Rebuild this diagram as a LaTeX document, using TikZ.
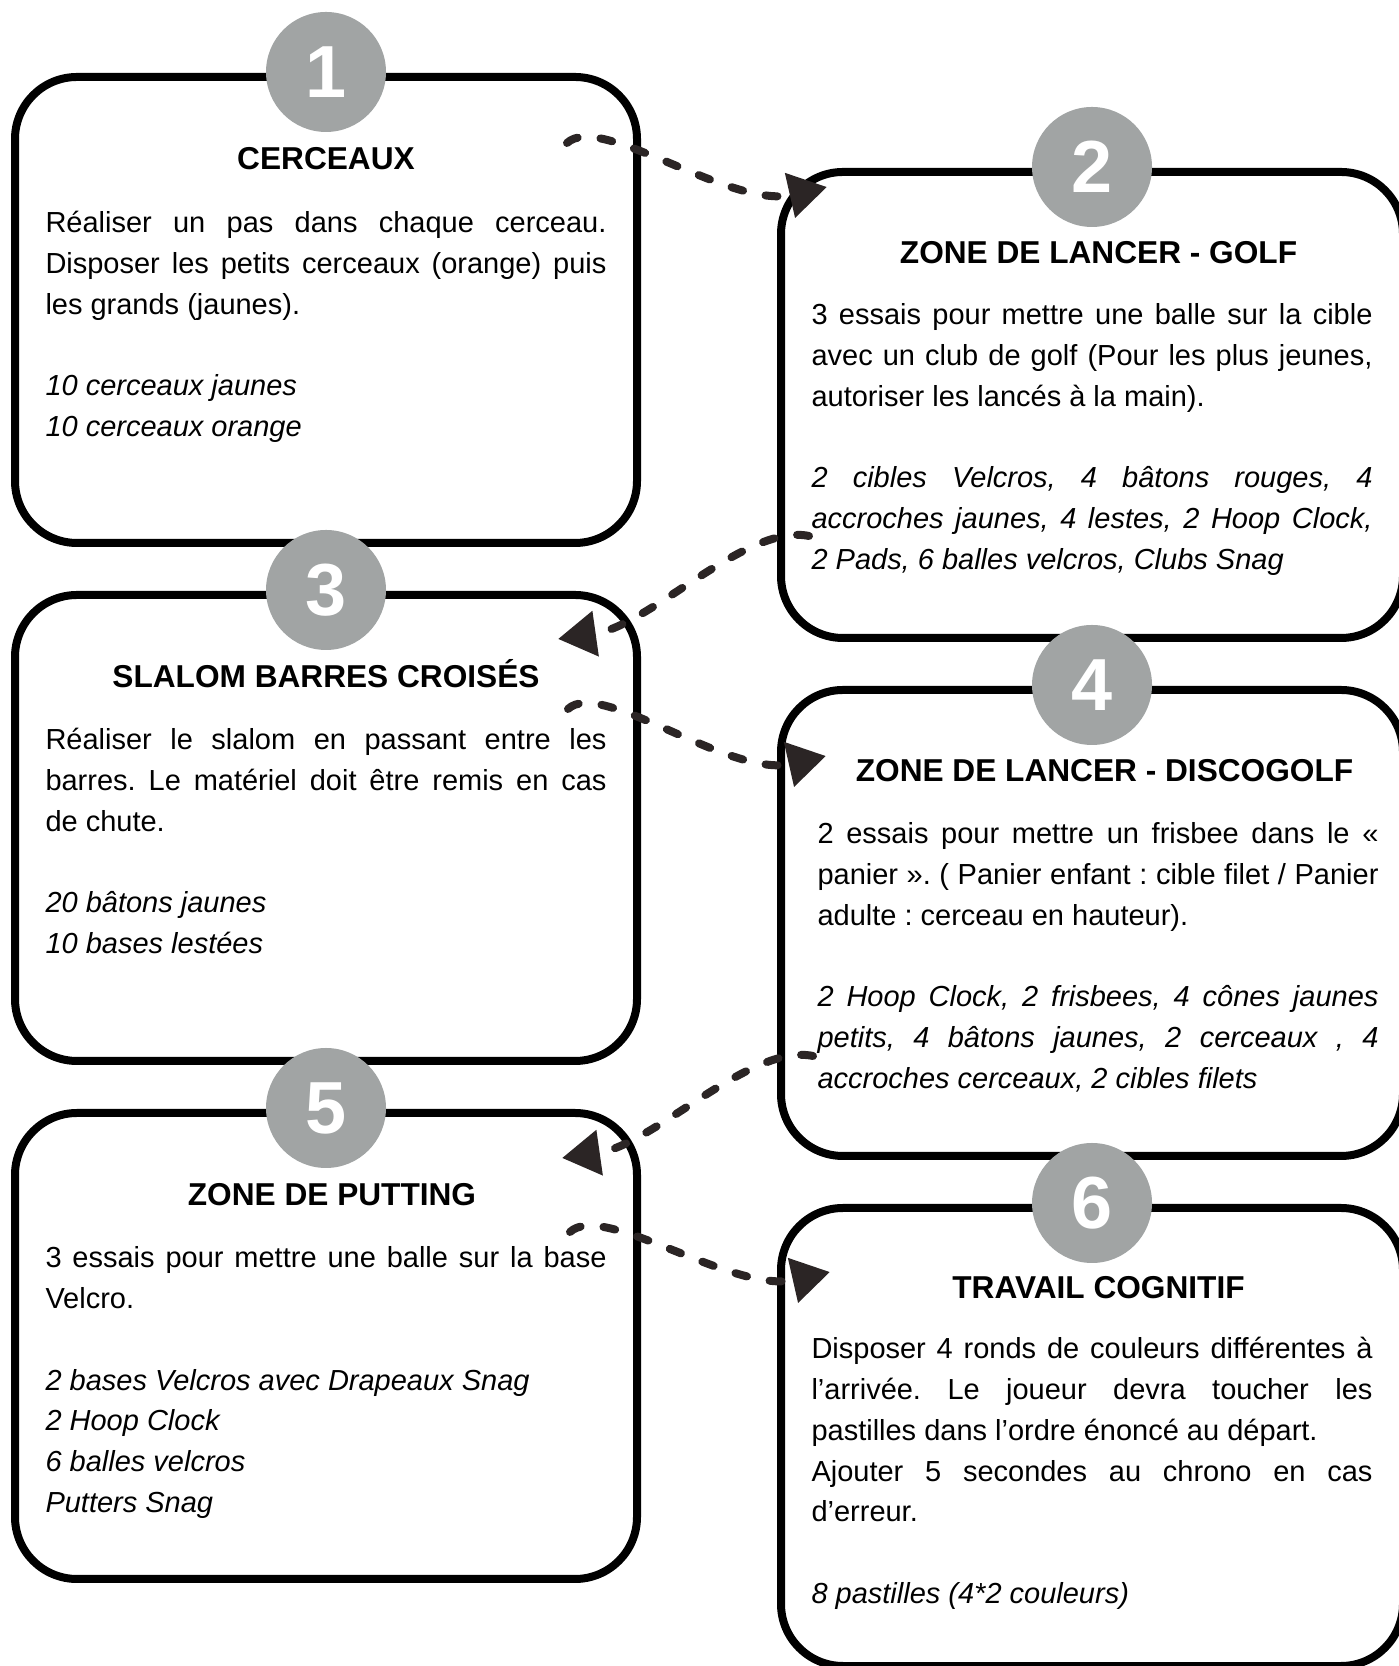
\documentclass[tikz,border=0pt]{standalone}
\usepackage{fontspec}
\setmainfont{Liberation Sans}
\usetikzlibrary{shapes.geometric, arrows.meta, positioning}
\definecolor{mgray}{HTML}{A1A4A4}
\definecolor{mdark}{HTML}{2B2525}
\setlength{\parindent}{0pt}
\frenchspacing
\tikzstyle{card} = [rectangle, rounded corners=1.24cm, minimum width=12.44cm, minimum height=9.32cm, line width=0.16cm, draw=black, outer sep=0pt]
\tikzstyle{badge} = [circle, minimum size=2.4cm, inner sep=0pt, fill=mgray, text=white, font=\bfseries\fontsize{42}{42}\selectfont]
\tikzstyle{heading} = [anchor=base, inner sep=0pt, font=\bfseries\fontsize{18}{20}\selectfont]
\tikzstyle{details} = [text width=11.22cm, align=justify, inner sep=0pt, font=\fontsize{16.5}{23.2}\selectfont, execute at begin node=\strut]
\tikzstyle{link} = [line width=0.16cm, draw=mdark, line cap=round, dash pattern=on 0.24cm off 0.46cm, -{Triangle[length=0.76cm, width=0.88cm]}]

\begin{document}
\begin{tikzpicture}
  \useasboundingbox (0,0) rectangle (27.98,33.32);
  \node (cerceaux) [card] at (6.52,27.12) {};
  \node (golf) [card, right=2.88cm of cerceaux, yshift=-1.9cm] {};
  \node (slalom) [card, below=1.04cm of cerceaux] {};
  \node (disco) [card, below=1.04cm of golf] {};
  \node (putting) [card, below=1.04cm of slalom] {};
  \node (cognitif) [card, below=1.04cm of disco, minimum height=9.16cm] {};

  \node (n1) [badge] at ([yshift=0.1cm]cerceaux.north) {1};
  \node (n2) [badge] at ([yshift=0.1cm]golf.north) {2};
  \node (n3) [badge] at ([yshift=0.1cm]slalom.north) {3};
  \node (n4) [badge] at ([yshift=0.1cm]disco.north) {4};
  \node (n5) [badge] at ([yshift=0.1cm]putting.north) {5};
  \node (n6) [badge] at ([yshift=0.1cm]cognitif.north) {6};

  \node (t1) [heading] at ([yshift=-1.86cm]cerceaux.north) {CERCEAUX};
  \node (t2) [heading] at ([shift={(0.13cm,-1.84cm)}]golf.north) {ZONE DE LANCER - GOLF};
  \node (t3) [heading] at ([yshift=-1.86cm]slalom.north) {SLALOM BARRES CROISÉS};
  \node (t4) [heading] at ([shift={(0.25cm,-1.84cm)}]disco.north) {ZONE DE LANCER - DISCOGOLF};
  \node (t5) [heading] at ([shift={(0.12cm,-1.86cm)}]putting.north) {ZONE DE PUTTING};
  \node (t6) [heading] at ([shift={(0.13cm,-1.82cm)}]cognitif.north) {TRAVAIL COGNITIF};

  \node (d1) [details, below=0.68cm of t1.base] {Réaliser un pas dans chaque cerceau.\linebreak Disposer les petits cerceaux (orange) puis les grands (jaunes).\par\mbox{}\par\textit{10 cerceaux jaunes}\par\textit{10 cerceaux orange}};
  \node (d2) [details, below=0.64cm of t2.base, xshift=-0.13cm] {3 essais pour mettre une balle sur la cible\linebreak avec un club de golf (Pour les plus jeunes,\linebreak autoriser les lancés à la main).\par\mbox{}\par\itshape 2 cibles Velcros, 4 bâtons rouges, 4\linebreak accroches jaunes, 4 lestes, 2 Hoop Clock,\linebreak 2 Pads, 6 balles velcros, Clubs Snag};
  \node (d3) [details, below=0.66cm of t3.base] {Réaliser le slalom en passant entre les\linebreak barres. Le matériel doit être remis en cas\linebreak de chute.\par\mbox{}\par\textit{20 bâtons jaunes}\par\textit{10 bases lestées}};
  \node (d4) [details, below=0.66cm of t4.base, xshift=-0.13cm] {2 essais pour mettre un frisbee dans le «\linebreak panier ». ( Panier enfant : cible filet / Panier\linebreak adulte : cerceau en hauteur).\par\mbox{}\par\itshape 2 Hoop Clock, 2 frisbees, 4 cônes jaunes\linebreak petits, 4 bâtons jaunes, 2 cerceaux , 4\linebreak accroches cerceaux, 2 cibles filets};
  \node (d5) [details, below=0.66cm of t5.base, xshift=-0.12cm] {3 essais pour mettre une balle sur la base\linebreak Velcro.\par\mbox{}\par\textit{2 bases Velcros avec Drapeaux Snag}\par\textit{2 Hoop Clock}\par\textit{6 balles velcros}\par\textit{Putters Snag}};
  \node (d6) [details, below=0.62cm of t6.base, xshift=-0.13cm] {Disposer 4 ronds de couleurs différentes à\linebreak l’arrivée. Le joueur devra toucher les\linebreak pastilles dans l’ordre énoncé au départ.\par Ajouter 5 secondes au chrono en cas\linebreak d’erreur.\par\mbox{}\par\textit{8 pastilles (4*2 couleurs)}};

  \coordinate (l12a) at ([shift={(-1.4cm,-1.32cm)}]cerceaux.north east);
  \coordinate (l12b) at ([shift={(0.92cm,-0.3cm)}]golf.north west);
  \coordinate (l23a) at ([shift={(0.56cm,2.04cm)}]golf.south west);
  \coordinate (l23b) at ([shift={(-1.58cm,-0.88cm)}]slalom.north east);
  \coordinate (l34a) at ([shift={(-1.38cm,-2.28cm)}]slalom.north east);
  \coordinate (l34b) at ([shift={(0.9cm,-1.32cm)}]disco.north west);
  \coordinate (l45a) at ([shift={(0.64cm,2.0cm)}]disco.south west);
  \coordinate (l45b) at ([shift={(-1.5cm,-0.9cm)}]putting.north east);
  \coordinate (l56a) at ([shift={(-1.34cm,-2.38cm)}]putting.north east);
  \coordinate (l56b) at ([shift={(0.98cm,-1.28cm)}]cognitif.north west);
  \draw [link] (l12a) .. controls +(0.66cm,0.62cm) and +(-1.94cm,-0.44cm) .. (l12b);
  \draw [link] (l23a) .. controls +(-1.26cm,0.26cm) and +(1.84cm,0.26cm) .. (l23b);
  \draw [link] (l34a) .. controls +(0.66cm,0.62cm) and +(-1.94cm,-0.44cm) .. (l34b);
  \draw [link] (l45a) .. controls +(-1.26cm,0.26cm) and +(1.84cm,0.26cm) .. (l45b);
  \draw [link] (l56a) .. controls +(0.66cm,0.62cm) and +(-1.94cm,-0.44cm) .. (l56b);
\end{tikzpicture}
\end{document}
